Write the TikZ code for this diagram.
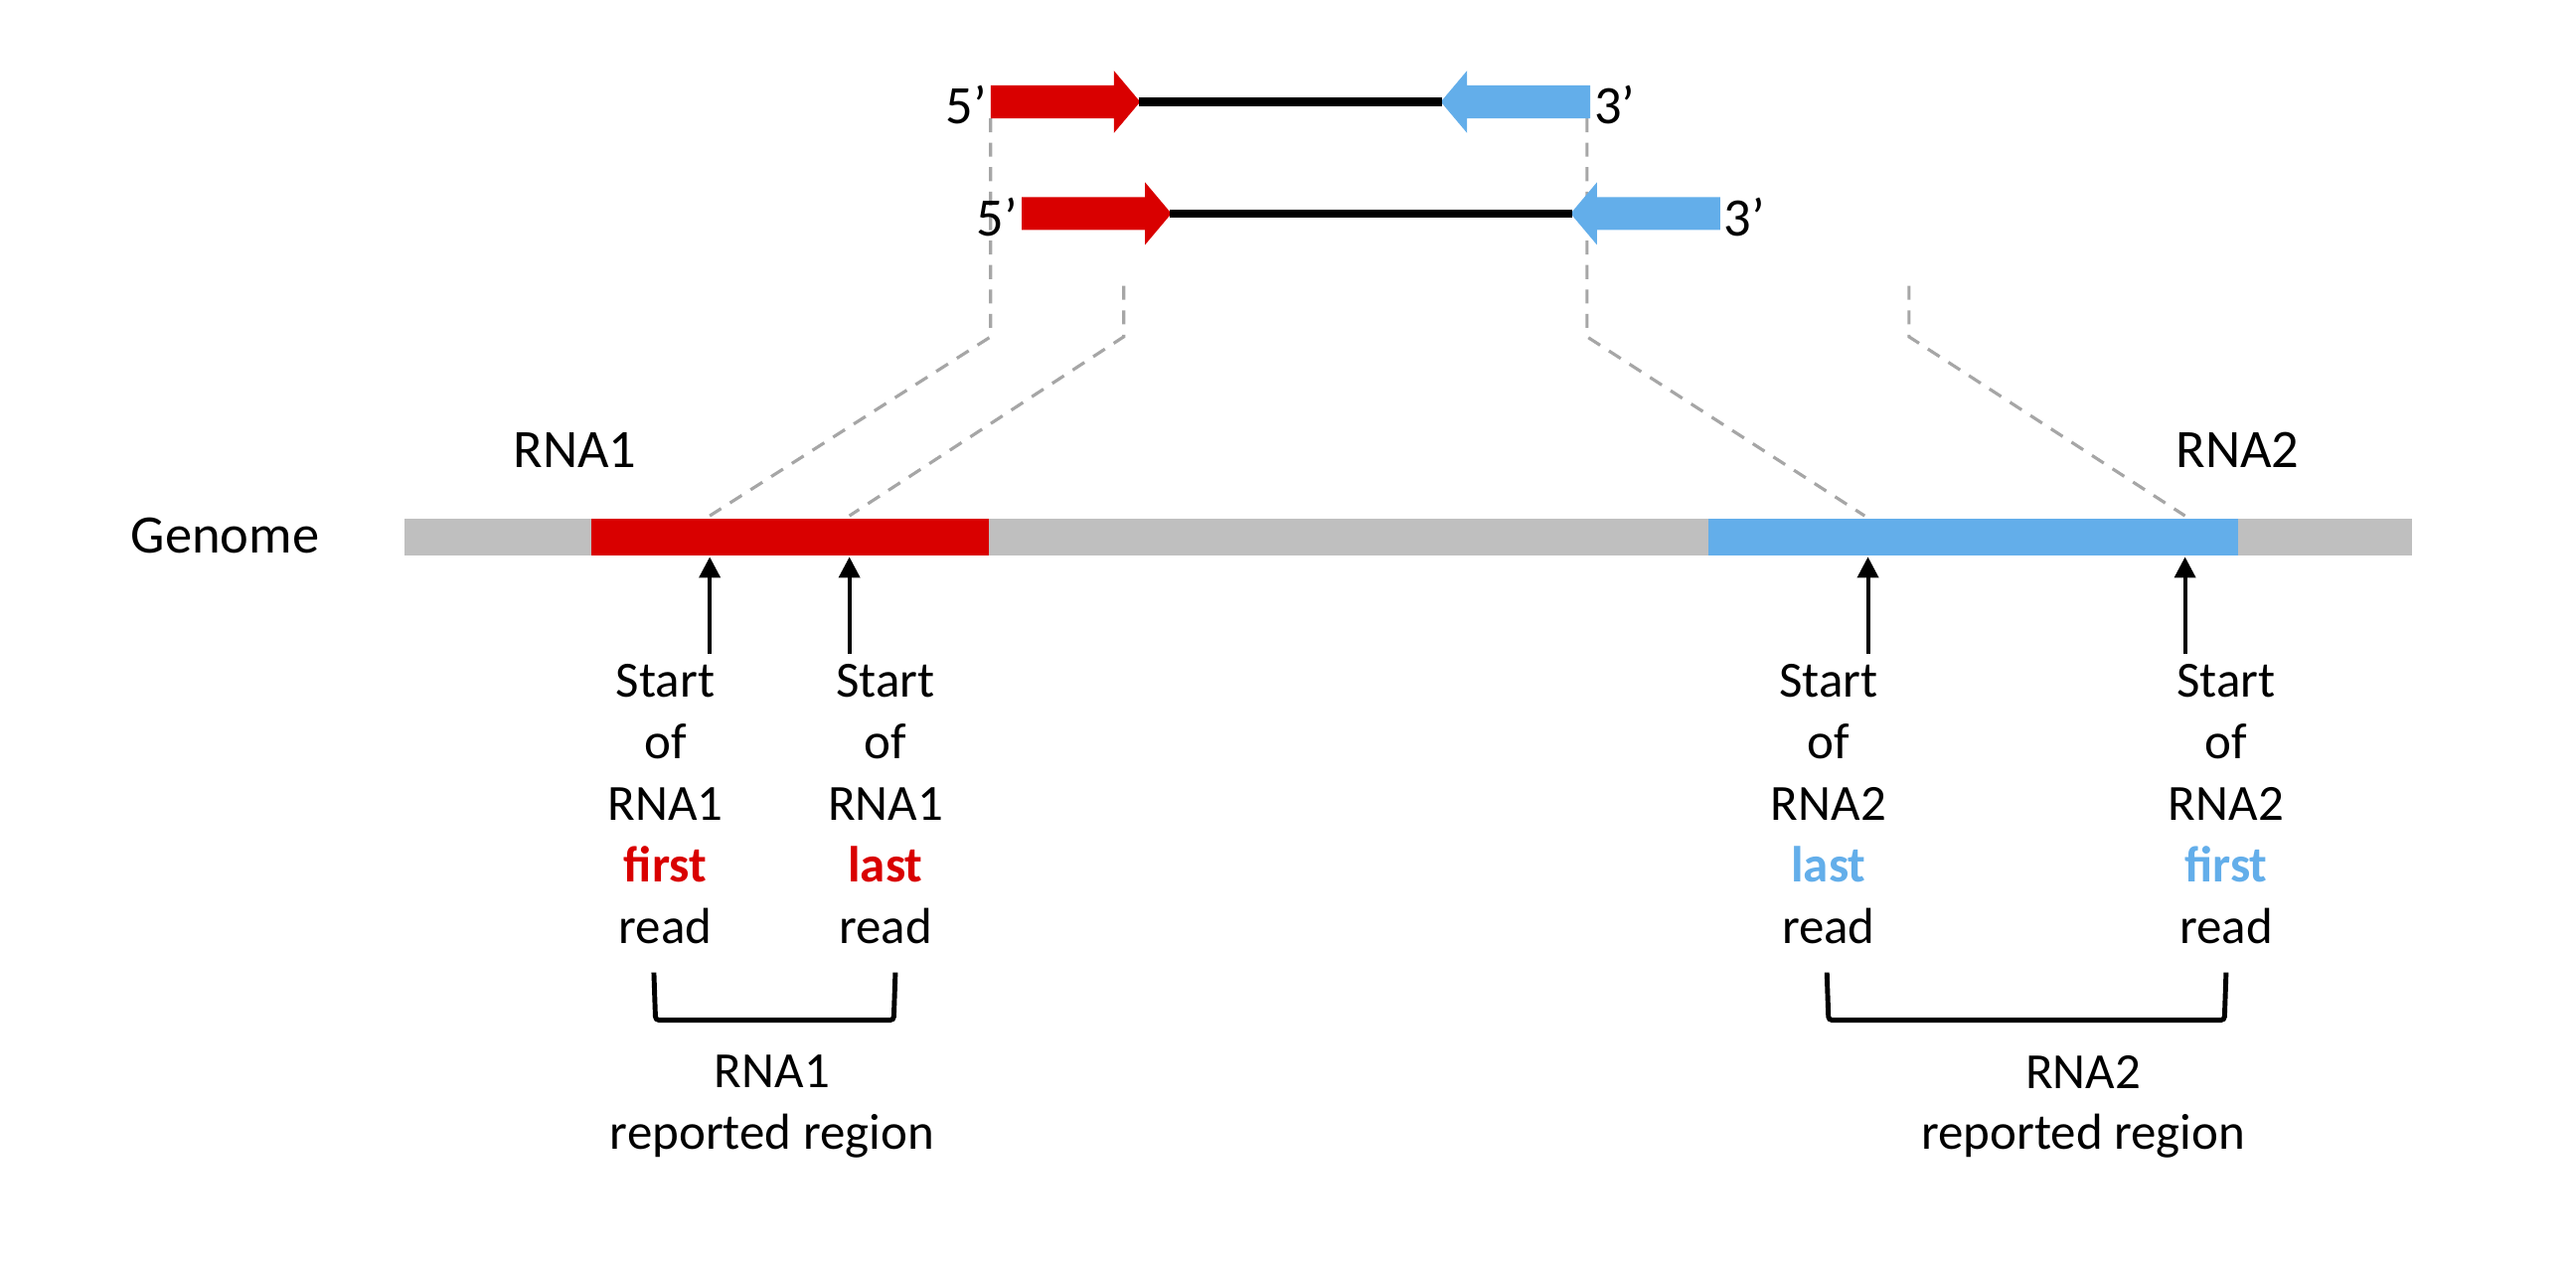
\documentclass[tikz,border=0pt]{standalone}
\usepackage{fontspec}
\setmainfont{Carlito}
\usetikzlibrary{arrows.meta}
\definecolor{rred}{HTML}{D90000}
\definecolor{rblue}{HTML}{63AEEA}
\definecolor{ggray}{HTML}{BFBFBF}
\definecolor{dgray}{HTML}{A6A6A6}
\newcommand{\readrow}[5]{%
  % #1 y, #2 red start, #3 blue end, #4 name
  \fill[rred] (#2,#1-10) -- (#2+75,#1-10) -- (#2+75,#1-19) -- (#2+91,#1) -- (#2+75,#1+19) -- (#2+75,#1+10) -- (#2,#1+10) -- cycle;
  \fill[rblue] (#3,#1-10) -- (#3-75,#1-10) -- (#3-75,#1-19) -- (#3-91,#1) -- (#3-75,#1+19) -- (#3-75,#1+10) -- (#3,#1+10) -- cycle;
  \coordinate (#4a) at (#2+90,#1);
  \coordinate (#4b) at (#3-90,#1);
  \draw[line width=2.4pt] (#4a) -- (#4b);
  \node[lbl,anchor=east] (#4f) at (#2-2,#1+2) {5’};
  \node[lbl,anchor=west] (#4t) at (#3+2,#1+2) {3’};
}
\begin{document}
\begin{tikzpicture}[x=0.01653cm,y=-0.01653cm,
  lbl/.style={inner sep=0pt,font=\fontsize{15.5}{18}\selectfont},
  txt/.style={inner sep=0pt,align=center,font=\fontsize{14.5}{17.6}\selectfont},
  dsh/.style={dgray,line width=0.9pt,dash pattern=on 4pt off 3pt},
  up/.style={-{Triangle[length=6pt,width=6pt]},line width=1.1pt},
  br/.style={line width=1.4pt,rounded corners=1pt}]
\useasboundingbox (0,0) rectangle (1568,770);
% genome
\fill[ggray] (246,316) rectangle (1468,338);
\fill[rred] (360,316) rectangle (602,338);
\fill[rblue] (1040,316) rectangle (1362,338);
\node[txt,font=\fontsize{15.5}{18}\selectfont] (genome) at (137,326) {Genome};
\node[txt,font=\fontsize{15.5}{18}\selectfont] (rna1) at (350,274) {RNA1};
\node[txt,font=\fontsize{15.5}{18}\selectfont] (rna2) at (1362,274) {RNA2};
% dashed lines
\coordinate (d1a) at (603,72); \coordinate (d1b) at (603,205); \coordinate (d1c) at (432,314);
\coordinate (d2a) at (684,174); \coordinate (d2b) at (684,205); \coordinate (d2c) at (517,314);
\coordinate (d3a) at (966,72); \coordinate (d3b) at (966,205); \coordinate (d3c) at (1135,314);
\coordinate (d4a) at (1162,174); \coordinate (d4b) at (1162,205); \coordinate (d4c) at (1330,314);
\draw[dsh] (d1a) -- (d1b) -- (d1c);
\draw[dsh] (d2a) -- (d2b) -- (d2c);
\draw[dsh] (d3a) -- (d3b) -- (d3c);
\draw[dsh] (d4a) -- (d4b) -- (d4c);
% reads
\readrow{62}{603}{968}{r1}
\readrow{96}{640}{1115}{r2}
\readrow{130}{622}{1047}{r3}
\readrow{164}{684}{1162}{r4}
% arrows
\coordinate (p1) at (432,339); \coordinate (q1) at (432,398);
\coordinate (p2) at (517,339); \coordinate (q2) at (517,398);
\coordinate (p3) at (1137,339); \coordinate (q3) at (1137,398);
\coordinate (p4) at (1330,339); \coordinate (q4) at (1330,398);
\draw[up] (q1) -- (p1);
\draw[up] (q2) -- (p2);
\draw[up] (q3) -- (p3);
\draw[up] (q4) -- (p4);
% labels
\node[txt,anchor=north] (t1) at (405,404) {Start\\of\\RNA1\\{\color{rred}\bfseries first}\\read};
\node[txt,anchor=north] (t2) at (539,404) {Start\\of\\RNA1\\{\color{rred}\bfseries last}\\read};
\node[txt,anchor=north] (t3) at (1113,404) {Start\\of\\RNA2\\{\color{rblue}\bfseries last}\\read};
\node[txt,anchor=north] (t4) at (1355,404) {Start\\of\\RNA2\\{\color{rblue}\bfseries first}\\read};
% brackets
\coordinate (b1a) at (398,592); \coordinate (b1b) at (399,621); \coordinate (b1c) at (544,621); \coordinate (b1d) at (545,592);
\coordinate (b2a) at (1112,592); \coordinate (b2b) at (1113,621); \coordinate (b2c) at (1354,621); \coordinate (b2d) at (1355,592);
\draw[br] (b1a) -- (b1b) -- (b1c) -- (b1d);
\draw[br] (b2a) -- (b2b) -- (b2c) -- (b2d);
\node[txt,anchor=north] (rr1) at (470,642) {RNA1\\reported region};
\node[txt,anchor=north] (rr2) at (1268,642) {RNA2\\reported region};
\end{tikzpicture}
\end{document}
